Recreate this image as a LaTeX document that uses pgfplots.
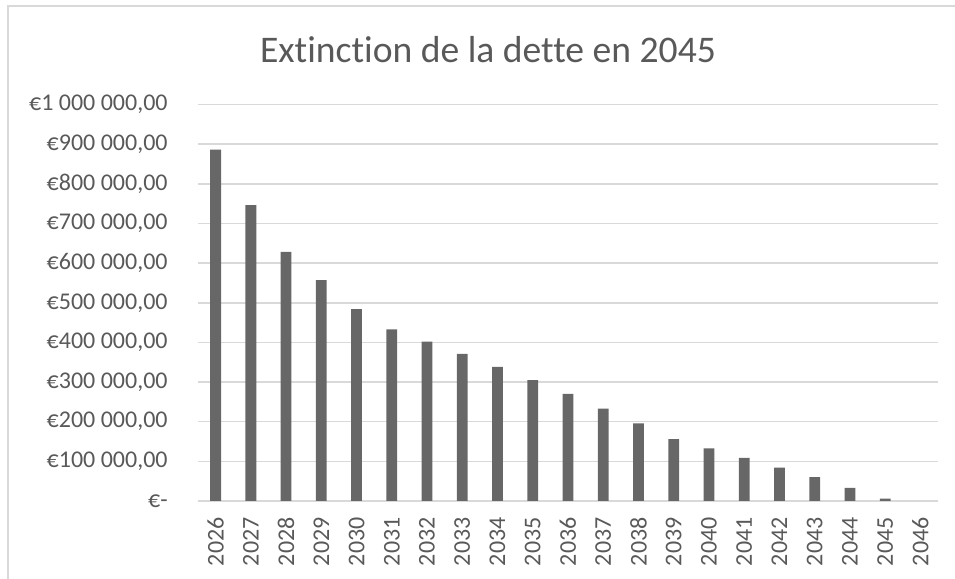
\documentclass[border=0pt]{standalone}
\usepackage{fontspec}
\setmainfont{Carlito}[Ligatures={NoCommon,TeX}]
\usepackage{pgfplots}
\pgfplotsset{compat=1.18}
\definecolor{txtgray}{HTML}{595959}
\definecolor{gridgray}{HTML}{D9D9D9}
\definecolor{bargray}{HTML}{676767}

\begin{document}
\begin{tikzpicture}
  \useasboundingbox (0,0) rectangle (477.5bp,289.5bp);
  % outer chart frame (only top and left visible)
  \draw[gridgray, line width=0.8bp] (4bp,0) -- (4bp,286.5bp) -- (477.5bp,286.5bp);
  \node[anchor=base, text=txtgray, font=\fontsize{18.8bp}{22bp}\selectfont]
    at (244bp,258.2bp) {Extinction de la dette en 2045};
  \begin{axis}[
      at={(99bp,39bp)}, anchor=south west,
      scale only axis,
      width=370bp, height=198.25bp,
      ybar, bar width=5.4bp,
      xmin=2025.5, xmax=2046.5,
      ymin=0, ymax=1000000,
      xtick={2026,...,2046},
      ytick={0,100000,...,1000000},
      yticklabels={€-\hspace{5.5bp},{€100 000,00},{€200 000,00},{€300 000,00},{€400 000,00},{€500 000,00},{€600 000,00},{€700 000,00},{€800 000,00},{€900 000,00},{€1 000 000,00}},
      xticklabel={\pgfmathprintnumber[1000 sep={},assume math mode=true]{\tick}},
      axis line style={draw=none},
      major tick length=0pt,
      ymajorgrids, grid style={gridgray, line width=0.8bp},
      tick label style={font=\fontsize{12bp}{14bp}\selectfont, text=txtgray},
      yticklabel style={anchor=east, inner sep=0pt, xshift=-15bp},
      xticklabel style={inner sep=0pt, yshift=-8bp, rotate=90, anchor=east},
      scaled y ticks=false,
    ]
    \addplot[fill=bargray, draw=none] coordinates {
      (2026,886000) (2027,746000) (2028,628000) (2029,557000) (2030,484000)
      (2031,433000) (2032,402000) (2033,371000) (2034,338000) (2035,305000)
      (2036,270000) (2037,233000) (2038,196000) (2039,156000) (2040,133000)
      (2041,109000) (2042,84000) (2043,60000) (2044,33000) (2045,6000)
      (2046,0)
    };
  \end{axis}
\end{tikzpicture}
\end{document}
